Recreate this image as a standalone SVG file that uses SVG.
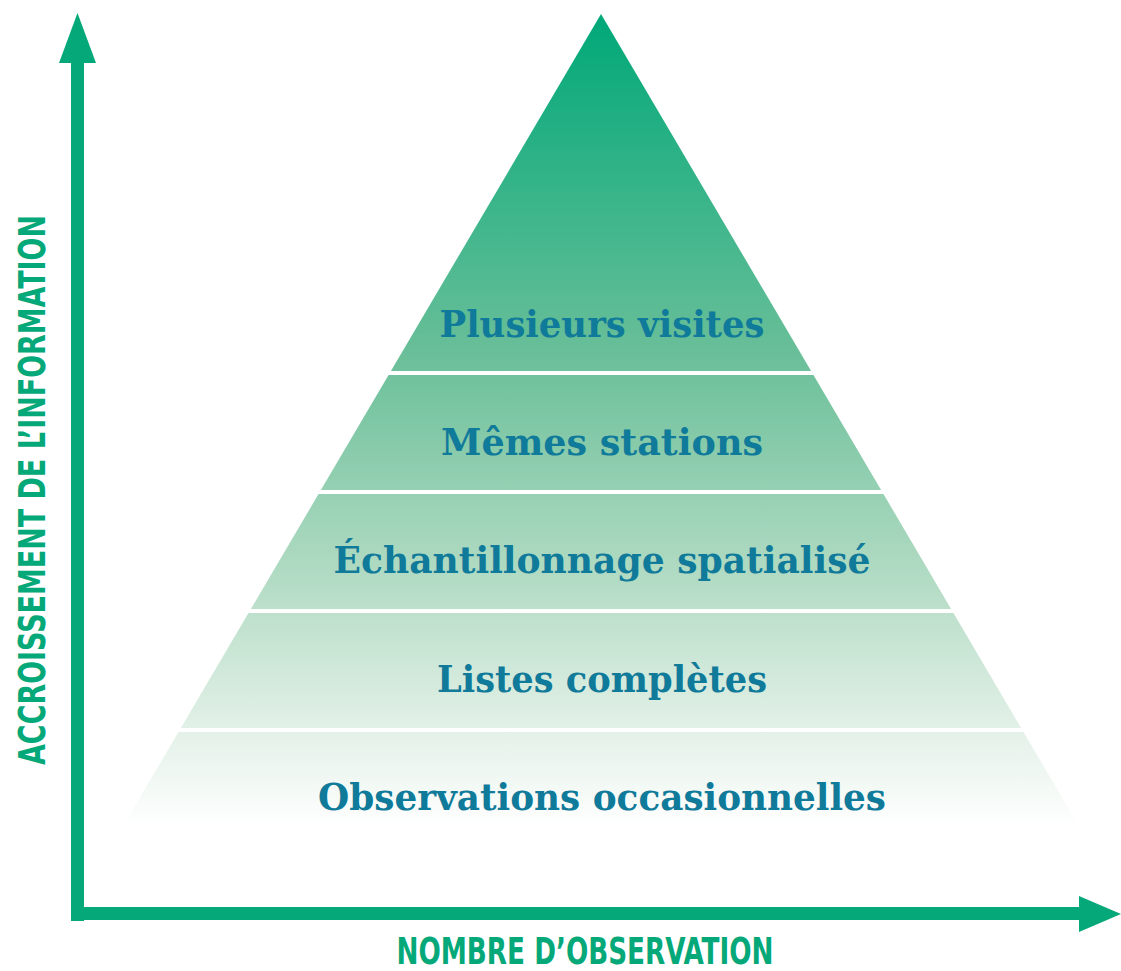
<svg xmlns="http://www.w3.org/2000/svg" width="1121" height="971" viewBox="0 0 1121 971">
  <style>
    .lbl { font-family: "DejaVu Serif", "Liberation Serif", serif; font-weight: bold; font-size: 37px; fill: #0f7a99; text-anchor: middle; }
    .axis { font-family: "DejaVu Sans Condensed", "Liberation Sans Narrow", "Liberation Sans", sans-serif; font-weight: bold; font-size: 37px; fill: #05a878; text-anchor: middle; }
    .sep { stroke: #ffffff; stroke-width: 4; }
  </style>
  <defs>
    <linearGradient id="pyr" gradientUnits="userSpaceOnUse" x1="0" y1="14" x2="0" y2="828">
      <stop offset="0" stop-color="#00a878"/>
      <stop offset="0.42" stop-color="#6abf99"/>
      <stop offset="0.7" stop-color="#b4dcc5"/>
      <stop offset="0.88" stop-color="#e3f1e8"/>
      <stop offset="1" stop-color="#ffffff"/>
    </linearGradient>
  </defs>
  <rect width="1121" height="971" fill="#ffffff"/>
  <g id="pyramid">
    <polygon points="601,14 1080,828 122,828" fill="url(#pyr)"/>
  </g>
  <g id="separators">
    <line class="sep" x1="300" y1="373" x2="900" y2="373"/>
    <line class="sep" x1="250" y1="492" x2="950" y2="492"/>
    <line class="sep" x1="200" y1="611" x2="1000" y2="611"/>
    <line class="sep" x1="150" y1="730" x2="1050" y2="730"/>
  </g>
  <g id="level1"><text class="lbl" x="602" y="337" textLength="325" lengthAdjust="spacingAndGlyphs">Plusieurs visites</text></g>
  <g id="level2"><text class="lbl" x="602" y="455" textLength="322" lengthAdjust="spacingAndGlyphs">Mêmes stations</text></g>
  <g id="level3"><text class="lbl" x="602" y="573" textLength="537" lengthAdjust="spacingAndGlyphs">Échantillonnage spatialisé</text></g>
  <g id="level4"><text class="lbl" x="602" y="692" textLength="330" lengthAdjust="spacingAndGlyphs">Listes complètes</text></g>
  <g id="level5"><text class="lbl" x="602" y="810" textLength="568" lengthAdjust="spacingAndGlyphs">Observations occasionnelles</text></g>
  <g id="axes" fill="#05a878">
    <rect x="71" y="60" width="13" height="861"/>
    <polygon points="77.5,13 96,63 59,63"/>
    <rect x="71" y="907" width="1011" height="13"/>
    <polygon points="1121,914 1079,896 1079,932"/>
  </g>
  <g id="axis-labels">
    <text class="axis" x="585" y="964" textLength="377" lengthAdjust="spacingAndGlyphs">NOMBRE D’OBSERVATION</text>
    <text class="axis" transform="translate(45,490) rotate(-90)" x="0" y="0" textLength="550" lengthAdjust="spacingAndGlyphs">ACCROISSEMENT DE L’INFORMATION</text>
  </g>
</svg>
